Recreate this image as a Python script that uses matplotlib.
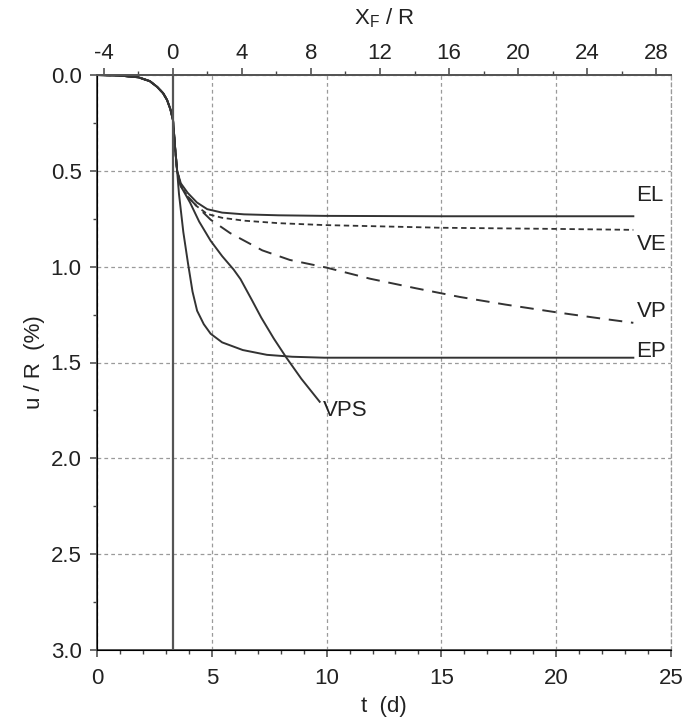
import matplotlib.pyplot as plt
from matplotlib.ticker import MultipleLocator

plt.rcParams['font.family'] = ['Liberation Sans', 'DejaVu Sans']
plt.rcParams['axes.unicode_minus'] = False

# shared start of every curve (t in days, u/R in %)
t_common = [0.0, 1.0, 1.8, 2.3, 2.62, 2.88, 3.05, 3.2, 3.31, 3.4, 3.49]
u_common = [0.0, 0.003, 0.012, 0.032, 0.062, 0.095, 0.13, 0.18, 0.235, 0.376, 0.50]

t_EL = [3.65, 3.95, 4.35, 4.8, 5.45, 6.4, 7.9, 9.9, 15.0, 23.36]
u_EL = [0.565, 0.615, 0.665, 0.70, 0.718, 0.727, 0.732, 0.735, 0.737, 0.737]

t_VE = [3.65, 3.95, 4.35, 4.8, 5.45, 6.4, 7.9, 9.9, 15.0, 20.0, 23.36]
u_VE = [0.575, 0.635, 0.685, 0.725, 0.745, 0.76, 0.773, 0.783, 0.797, 0.803, 0.808]

t_VP = [3.65, 3.95, 4.35, 4.95, 5.8, 7.2, 8.4, 10.0, 11.9, 13.9, 15.8, 17.8, 20.0, 21.8, 23.36]
u_VP = [0.58, 0.635, 0.685, 0.755, 0.825, 0.915, 0.965, 1.005, 1.063, 1.113, 1.158, 1.198, 1.238, 1.268, 1.293]

t_EP = [3.57, 3.76, 3.96, 4.16, 4.36, 4.65, 4.95, 5.45, 6.35, 7.4, 8.5, 9.9, 23.36]
u_EP = [0.62, 0.82, 0.98, 1.13, 1.23, 1.30, 1.35, 1.395, 1.435, 1.46, 1.47, 1.475, 1.475]

t_VPS = [3.65, 4.05, 4.45, 4.95, 5.45, 5.95, 6.25, 6.75, 7.15, 7.7, 8.25, 8.9, 9.7]
u_VPS = [0.58, 0.665, 0.765, 0.865, 0.945, 1.015, 1.065, 1.175, 1.265, 1.375, 1.475, 1.585, 1.705]

labels = ['EL', 'VE', 'VP', 'EP', 'VPS']
label_t = [23.5, 23.5, 23.5, 23.5, 9.85]
label_u = [0.63, 0.885, 1.235, 1.445, 1.75]

t_front = 3.30      # X_F = 0
xf_per_day = 1.3295

line_col = '#333333'
grid_col = '#9a9a9a'
text_col = '#222222'
fs = 16

fig = plt.figure(figsize=(6.88, 7.19), dpi=100)
ax = fig.add_axes([97/688, 1-650/719, (671-97)/688, (650-75)/719])

def full(tt, uu):
    return t_common + tt, u_common + uu

ax.plot(*full(t_EL, u_EL), color=line_col, lw=1.4, ls='-')
ax.plot(*full(t_VE, u_VE), color=line_col, lw=1.3, ls=(0, (3, 2)))
ax.plot(*full(t_VP, u_VP), color=line_col, lw=1.4, ls=(0, (7, 4.5)))
ax.plot(*full(t_EP, u_EP), color=line_col, lw=1.4, ls='-')
ax.plot(*full(t_VPS, u_VPS), color=line_col, lw=1.4, ls='-')
ax.axvline(t_front, color='#555555', lw=1.6)

for lab, lt, lu in zip(labels, label_t, label_u):
    ax.text(lt, lu, lab, fontsize=fs, color=text_col, va='center', ha='left')

ax.set_xlim(0, 25)
ax.set_ylim(3.0, 0.0)
ax.xaxis.set_major_locator(MultipleLocator(5))
ax.xaxis.set_minor_locator(MultipleLocator(1))
ax.yaxis.set_major_locator(MultipleLocator(0.5))
ax.yaxis.set_minor_locator(MultipleLocator(0.25))
ax.yaxis.set_major_formatter(lambda v, p: f'{v:.1f}')
ax.grid(True, which='major', color=grid_col, ls=(0, (3, 2.5)), lw=0.9)

ax.tick_params(which='both', direction='out', colors='#444444', labelcolor=text_col,
               labelsize=fs, top=False, right=False)
ax.tick_params(which='major', length=5, width=1.1)
ax.tick_params(axis='x', which='major', pad=8)
ax.tick_params(axis='y', which='major', pad=6)
ax.tick_params(which='minor', length=3, width=1.0)

for side in ['left', 'bottom', 'top']:
    ax.spines[side].set_color('#555555')
    ax.spines[side].set_linewidth(1.4)
ax.spines['right'].set_color(grid_col)
ax.spines['right'].set_linestyle((0, (3, 2.5)))
ax.spines['right'].set_linewidth(0.9)

ax.set_xlabel('t  (d)', fontsize=fs, color=text_col, labelpad=5)
ax.set_ylabel('u / R  (%)', fontsize=fs, color=text_col, labelpad=4)

# top axis: front position
ax2 = ax.twiny()
ax2.set_xlim((0 - t_front) * xf_per_day, (25 - t_front) * xf_per_day)
ax2.xaxis.set_major_locator(MultipleLocator(4))
ax2.xaxis.set_minor_locator(MultipleLocator(2))
ax2.tick_params(which='both', direction='out', colors='#444444', labelcolor=text_col,
                labelsize=fs)
ax2.tick_params(which='major', length=5, width=1.1, pad=3)
ax2.tick_params(which='minor', length=3, width=1.0)
ax2.spines['right'].set_visible(False)
ax2.spines['top'].set_color('#555555')
ax2.spines['top'].set_linewidth(1.4)
ax2.set_xlabel('X$_\\mathregular{F}$ / R', fontsize=fs, color=text_col, labelpad=13)

fig.savefig('out.png', dpi=100)
